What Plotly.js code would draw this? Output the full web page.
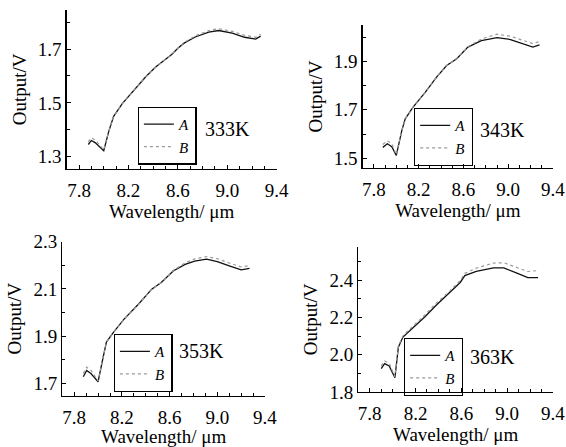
<!DOCTYPE html>
<html><head><meta charset="utf-8">
<script src="https://cdn.plot.ly/plotly-3.0.1.min.js"></script>
<style>html,body{margin:0;padding:0;background:#fff}#chart{width:566px;height:447px}</style>
</head><body><div id="chart"></div>
<script>
// Panel labels
const temps = ["333K", "343K", "353K", "363K"];
const seriesNames = ["A", "B"];
const xTickLabels = ["7.8", "8.2", "8.6", "9.0", "9.4"];

// 333K
const wl1 = [7.875, 7.90, 7.93, 7.965, 8.00, 8.04, 8.08, 8.15, 8.23, 8.34, 8.42, 8.50, 8.55, 8.60, 8.65, 8.74, 8.85, 8.93, 9.04, 9.14, 9.23, 9.27];
const A1  = [1.345, 1.360, 1.352, 1.335, 1.322, 1.393, 1.450, 1.497, 1.540, 1.597, 1.633, 1.663, 1.680, 1.703, 1.722, 1.745, 1.763, 1.769, 1.759, 1.744, 1.737, 1.748];
const B1  = [1.355, 1.370, 1.362, 1.342, 1.325, 1.393, 1.450, 1.497, 1.540, 1.597, 1.633, 1.663, 1.680, 1.703, 1.724, 1.749, 1.769, 1.776, 1.766, 1.751, 1.744, 1.755];
// 343K
const wl2 = [7.88, 7.92, 7.96, 8.00, 8.05, 8.08, 8.15, 8.26, 8.36, 8.45, 8.54, 8.64, 8.76, 8.90, 9.02, 9.13, 9.22, 9.28];
const A2  = [1.545, 1.560, 1.548, 1.512, 1.615, 1.663, 1.711, 1.773, 1.835, 1.883, 1.911, 1.959, 1.985, 1.998, 1.990, 1.973, 1.959, 1.968];
const B2  = [1.557, 1.572, 1.560, 1.515, 1.615, 1.663, 1.711, 1.773, 1.835, 1.883, 1.911, 1.960, 1.992, 2.012, 2.004, 1.987, 1.973, 1.982];
// 353K
const wl3 = [7.876, 7.904, 7.94, 7.973, 8.00, 8.04, 8.07, 8.13, 8.22, 8.34, 8.45, 8.53, 8.63, 8.73, 8.81, 8.91, 9.00, 9.10, 9.20, 9.27];
const A3  = [1.728, 1.755, 1.742, 1.724, 1.707, 1.805, 1.875, 1.917, 1.973, 2.036, 2.099, 2.127, 2.176, 2.204, 2.218, 2.226, 2.216, 2.198, 2.181, 2.187];
const B3  = [1.742, 1.769, 1.756, 1.732, 1.710, 1.805, 1.875, 1.917, 1.973, 2.036, 2.099, 2.127, 2.178, 2.210, 2.227, 2.237, 2.228, 2.210, 2.193, 2.199];
// 363K
const wl4 = [7.90, 7.93, 7.97, 8.02, 8.05, 8.09, 8.18, 8.28, 8.38, 8.50, 8.59, 8.63, 8.73, 8.88, 8.97, 9.08, 9.18, 9.27];
const A4  = [1.925, 1.952, 1.940, 1.877, 2.041, 2.095, 2.146, 2.203, 2.266, 2.333, 2.388, 2.425, 2.448, 2.466, 2.466, 2.440, 2.414, 2.414];
const B4  = [1.940, 1.967, 1.955, 1.882, 2.047, 2.102, 2.155, 2.213, 2.277, 2.343, 2.398, 2.437, 2.465, 2.492, 2.494, 2.470, 2.447, 2.452];

const panels = [
  {wl: wl1, A: A1, B: B1, yr: [1.254, 1.846], y0: 1.3, xd: [0.1178, 0.4889], yd: [0.622, 0.978], leg: [0.3475, 0.7613], lab: [0.3587, 0.7114]},
  {wl: wl2, A: A2, B: B2, yr: [1.46, 2.05],   y0: 1.5, xd: [0.6408, 0.977],  yd: [0.6242, 0.9441], leg: [0.8357, 0.7584], lab: [0.8445, 0.709]},
  {wl: wl3, A: A3, B: B3, yr: [1.648, 2.30],  y0: 1.7, xd: [0.1101, 0.4682], yd: [0.1148, 0.4593], leg: [0.3051, 0.2528], lab: [0.3127, 0.2154]},
  {wl: wl4, A: A4, B: B4, yr: [1.80, 2.58],   y0: 1.8, xd: [0.633, 0.977],   yd: [0.123, 0.4481], leg: [0.8180, 0.2438], lab: [0.8269, 0.2013]}
];

const FONT = "'Liberation Serif', 'Times New Roman', serif";
const data = [];
const layout = {
  width: 566, height: 447,
  margin: {l: 0, r: 0, t: 0, b: 0},
  paper_bgcolor: "#fff", plot_bgcolor: "rgba(0,0,0,0)",
  font: {family: FONT, size: 19, color: "#000"},
  annotations: []
};

panels.forEach((p, i) => {
  const n = i + 1;
  const xa = n === 1 ? "x" : "x" + n;
  const ya = n === 1 ? "y" : "y" + n;
  const lg = n === 1 ? "legend" : "legend" + n;
  data.push({x: p.wl, y: p.A, xaxis: xa, yaxis: ya, legend: lg, type: "scatter", mode: "lines",
    name: "<i>" + seriesNames[0] + "</i>", line: {color: "#111", width: 1.3}});
  data.push({x: p.wl, y: p.B, xaxis: xa, yaxis: ya, legend: lg, type: "scatter", mode: "lines",
    name: "<i>" + seriesNames[1] + "</i>", line: {color: "#9a9a9a", width: 1.2, dash: "dot"}});

  const axBase = {showgrid: false, zeroline: false, showline: true, linecolor: "#000", linewidth: 1.3,
    ticks: "inside", ticklen: 4, tickcolor: "#000", tickwidth: 1, tickfont: {family: FONT, size: 19}};
  layout["xaxis" + (n === 1 ? "" : n)] = Object.assign({}, axBase, {
    domain: p.xd, anchor: ya, range: [7.7, 9.4],
    tickmode: "array", tickvals: xTickLabels.map(Number), ticktext: xTickLabels,
    minor: {dtick: 0.1, tick0: 7.8, ticks: "inside", ticklen: 3, tickcolor: "#000"},
    ticklabelstandoff: 4,
    title: {text: "Wavelength/ μm", font: {family: FONT, size: 19}, standoff: 2}
  });
  layout["yaxis" + (n === 1 ? "" : n)] = Object.assign({}, axBase, {
    domain: p.yd, anchor: xa, range: p.yr,
    tick0: p.y0, dtick: 0.2, tickformat: ".1f",
    minor: {dtick: 0.1, tick0: p.y0, ticks: "inside", ticklen: 3, tickcolor: "#000"},
    title: {text: "Output/V", font: {family: FONT, size: 19}, standoff: 6}
  });
  layout[lg] = {x: p.leg[0], y: p.leg[1], xanchor: "right", yanchor: "top",
    bgcolor: "rgba(255,255,255,0)", bordercolor: "#000", borderwidth: 1.2,
    font: {family: FONT, size: 15}, itemwidth: 30, tracegroupgap: 0};
  layout.annotations.push({xref: "paper", yref: "paper", x: p.lab[0], y: p.lab[1],
    xanchor: "left", yanchor: "middle", showarrow: false, text: temps[i],
    font: {family: FONT, size: 20}});
});

Plotly.newPlot("chart", data, layout, {staticPlot: true});
</script></body></html>
